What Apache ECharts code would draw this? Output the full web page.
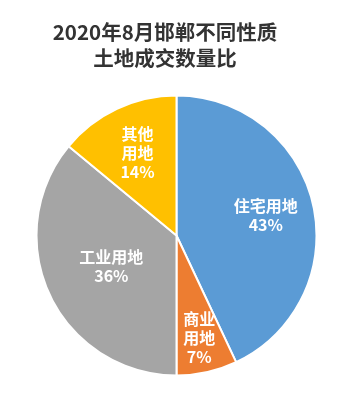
<!DOCTYPE html>
<html><head><meta charset="utf-8">
<script src="https://cdn.jsdelivr.net/npm/echarts@6/dist/echarts.min.js"></script>
<style>html,body{margin:0;padding:0;background:#fff}#c{width:352px;height:401px}</style>
</head><body><div id="c"></div>
<script>
const titleText = '2020年8月邯郸不同性质\n土地成交数量比';
const categories = ['住宅用地', '商业用地', '工业用地', '其他用地'];
const labelNames = ['住宅用地', '商业\n用地', '工业用地', '其他\n用地'];
const values = [43, 7, 36, 14];
const colors = ['#5B9BD5', '#ED7D31', '#A5A5A5', '#FFC000'];

const center = [176.5, 235.5];
const R = 140;
const data = categories.map((c, i) => ({ name: c, value: values[i], itemStyle: { color: colors[i] } }));

const labelRings = [
  { radius: [79, 98], show: [0, 3] },
  { radius: [60, 78], show: [2] },
  { radius: [92, 111], show: [1] }
];

const series = [{
  type: 'pie', center: center, radius: [0, R], startAngle: 90, clockwise: true,
  silent: true, animation: false,
  itemStyle: { borderColor: '#fff', borderWidth: 2 },
  label: { show: false }, labelLine: { show: false },
  data: data
}];
labelRings.forEach(ring => {
  series.push({
    type: 'pie', center: center, radius: ring.radius, startAngle: 90, clockwise: true,
    silent: true, animation: false,
    itemStyle: { color: 'rgba(0,0,0,0)', borderWidth: 0 },
    labelLine: { show: false },
    data: categories.map((c, i) => ({
      name: c, value: values[i],
      label: {
        show: ring.show.indexOf(i) >= 0, position: 'inside',
        formatter: labelNames[i] + '\n' + values[i] + '%',
        color: '#fff', fontSize: 16, fontWeight: 'bold', lineHeight: 19,
        fontFamily: '"Noto Sans CJK SC", sans-serif'
      }
    }))
  });
});

const chart = echarts.init(document.getElementById('c'), null, { renderer: 'canvas' });
chart.setOption({
  backgroundColor: '#fff',
  animation: false,
  title: {
    text: titleText, left: 160, top: 14, textAlign: 'center',
    textStyle: { fontSize: 20.5, fontWeight: 'bold', color: '#333', lineHeight: 26,
      fontFamily: '"Noto Sans CJK SC", sans-serif' }
  },
  series: series
});
</script></body></html>
